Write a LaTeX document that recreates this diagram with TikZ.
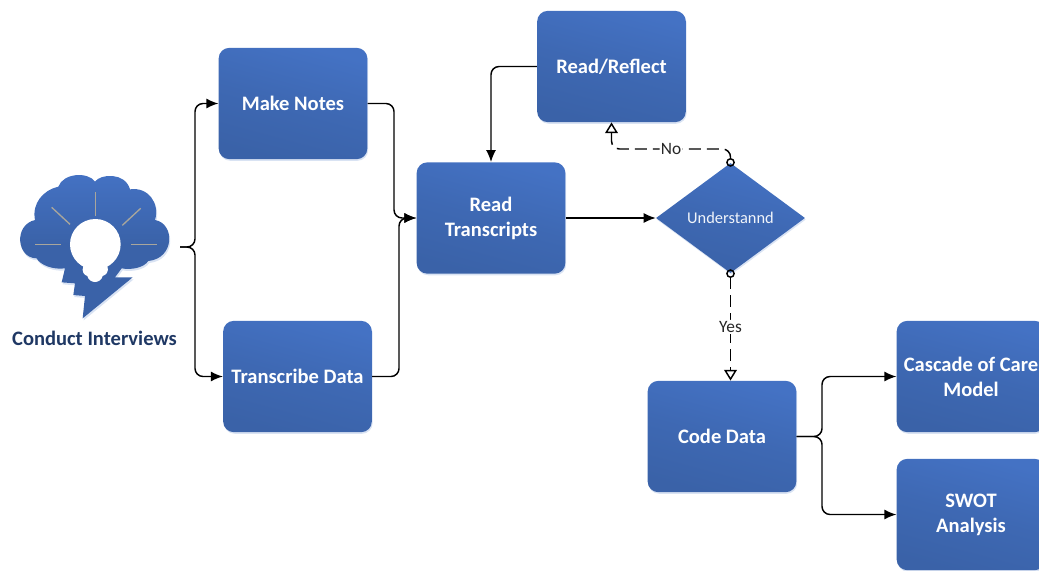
\documentclass[tikz,border=0pt]{standalone}
\usepackage{fontspec}
\setmainfont{Carlito}
\usetikzlibrary{arrows.meta,shapes.geometric,shadows}
\definecolor{boxtop}{HTML}{4472C4}
\definecolor{boxbot}{HTML}{3A62A8}
\definecolor{raygray}{HTML}{A9A69C}
\definecolor{navy}{HTML}{1F3864}
\newcommand{\cloudpath}{(285,65) .. controls (300,42) and (375,35) .. (390,88)
  .. controls (445,80) and (480,130) .. (465,180)
  .. controls (525,190) and (525,295) .. (445,303)
  .. controls (430,325) and (390,330) .. (365,325)
  -- (345,352) -- (398,352) -- (248,475) -- (255,408) -- (220,405) -- (225,370)
  -- (185,367) -- (195,325)
  .. controls (160,330) and (120,315) .. (110,295)
  .. controls (50,295) and (40,195) .. (105,180)
  .. controls (95,130) and (130,90) .. (175,80)
  .. controls (190,38) and (265,35) .. (285,65) -- cycle}
\tikzset{
  soft/.style={top color=boxtop, bottom color=boxbot, middle color=boxbot!60!boxtop, shading angle=-15,
    drop shadow={shadow xshift=0.6pt, shadow yshift=-1.2pt, fill=boxtop!45, opacity=.45}},
  stepbox/.style={soft, rounded corners=8pt, minimum width=111.5pt, minimum height=83.5pt,
    inner sep=0pt, align=center, text=white, font=\fontsize{15.4}{18.75}\selectfont\bfseries},
  decide/.style={soft, diamond, aspect=1.35, minimum width=111.75pt, minimum height=82.5pt,
    inner sep=0pt, text=white!92!boxtop, font=\fontsize{12.3}{14}\selectfont},
  flow/.style={-{Latex[length=9pt,width=7.5pt]}, line width=1.1pt, rounded corners=6pt, black},
  maybe/.style={{Circle[open,length=6.5pt,width=6.5pt]}-{Triangle[open,length=8pt,width=9.5pt]},
    line width=1.1pt, rounded corners=6pt, black, dash pattern=on 9pt off 4.5pt, shorten <=-3pt},
  tag/.style={fill=white, inner sep=1pt, font=\fontsize{13}{15}\selectfont, text=black!85},
  ray/.style={raygray, line width=1pt}
}
\begin{document}
\begin{tikzpicture}[x=0.75pt,y=-0.75pt]
  \useasboundingbox (0,0) rectangle (1039,571);
  \clip (0,0) rectangle (1039,571);

  \begin{scope}[shift={(0,160)},scale=0.33333]
    \fill[boxtop!45,opacity=.45,shift={(3,6)}] \cloudpath;
    \shade[top color=boxtop, bottom color=boxbot, middle color=boxbot] \cloudpath;
    \draw[ray] (287,97) -- (287,168);
    \draw[ray] (155,142) -- (210,193);
    \draw[ray] (422,145) -- (367,196);
    \draw[ray] (106,253) -- (183,253);
    \draw[ray] (393,253) -- (470,253);
    \fill[white] (286,253) circle (76);
    \fill[white] (228,295) -- (344,295) -- (322,318)
      .. controls (328,335) and (318,345) .. (308,348)
      .. controls (302,372) and (268,372) .. (262,348)
      .. controls (252,345) and (244,335) .. (250,318) -- cycle;
  \end{scope}

  \coordinate (idea) at (180,247);
  \node (conduct) at (94.5,338) {\color{navy}\fontsize{15.4}{18}\selectfont\bfseries Conduct Interviews};

  \node[stepbox] (notes) at (293,103.5) {Make Notes};
  \node[stepbox] (transcribe) at (297.5,376.5) {Transcribe Data};
  \node[stepbox] (read) at (491,218) {Read\\Transcripts};
  \node[stepbox] (reflect) at (611.5,66.5) {Read/Reflect};
  \node[decide] (understand) at (730.5,218) {Understannd};
  \node[stepbox] (code) at (722,436.5) {Code Data};
  \node[stepbox] (cascade) at (971,376.5) {Cascade of Care\\Model};
  \node[stepbox] (swot) at (971,514.5) {SWOT\\Analysis};

  \draw[flow] (idea) -- (195,247) |- (notes.west);
  \draw[flow] (idea) -- (195,247) |- (transcribe.west);
  \draw[flow] (notes.east) -- (394,103.5) |- (read.west);
  \draw[flow] (transcribe.east) -- (399,376.5) |- (read.west);
  \draw[flow] (reflect.west) -| (read.north);
  \draw[flow] (read.east) -- (understand.west);
  \draw[flow] (code.east) -- (822,436.5) |- (cascade.west);
  \draw[flow] (code.east) -- (822,436.5) |- (swot.west);
  \draw[maybe] (understand.north) -- (730.5,149) -| node[tag,pos=0.25] {No} (reflect.south);
  \draw[maybe] (understand.south) -- node[tag] {Yes} (understand.south |- code.north);
\end{tikzpicture}
\end{document}
